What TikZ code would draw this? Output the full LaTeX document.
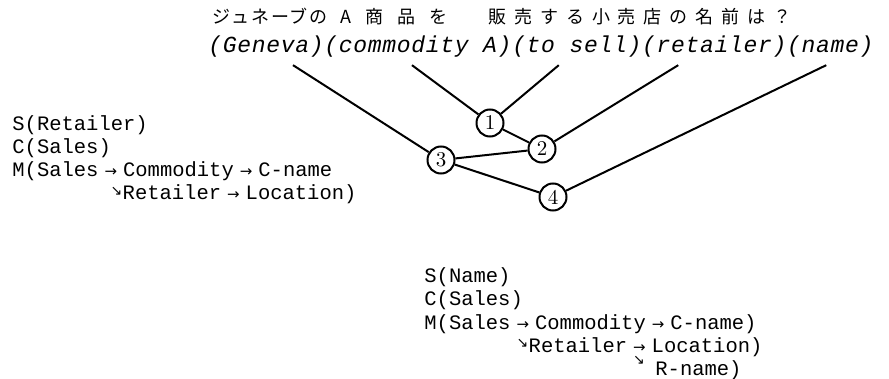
\documentclass[tikz,border=0pt]{standalone}
\usepackage{fontspec}
\setmonofont{Liberation Mono}
\newfontfamily\glossfont[LetterSpace=3]{Liberation Mono}
\newfontfamily\jpkana[LetterSpace=11]{Noto Sans CJK JP}
\newfontfamily\jpnoun[LetterSpace=78]{Noto Sans CJK JP}
\newfontfamily\jpkanji[LetterSpace=44]{Noto Sans CJK JP}
\newfontfamily\arrowfont{DejaVu Sans}
\usetikzlibrary{positioning}

% small arrows inside the schema lines
\newcommand{\sarr}{\makebox[1.2em]{\arrowfont\fontsize{7.5}{7.5}\selectfont →}}
\newcommand{\darr}{\makebox[0.6em]{\raisebox{2pt}{\arrowfont\fontsize{7}{7}\selectfont ↘}}}
\newcommand{\forkarr}{\makebox[1.2em]{\arrowfont\fontsize{7.5}{7.5}\selectfont\rlap{\raisebox{-6pt}{\fontsize{7}{7}\selectfont ↘}}→}}

\begin{document}
\begin{tikzpicture}[
    x=0.5pt, y=-0.5pt,
    jp/.style={anchor=base west, inner sep=0pt},
    word/.style={font=\glossfont\itshape\fontsize{11.5}{14}\selectfont, inner xsep=0pt, inner ysep=3.5pt},
    schema/.style={font=\ttfamily\fontsize{10.25}{12}\selectfont, anchor=base west, inner sep=0pt},
    junct/.style={circle, draw, line width=1pt, minimum size=13.5pt, inner sep=0pt, font=\fontsize{10.5}{12}\selectfont},
    link/.style={line width=1pt}
]
    \useasboundingbox (0,0) rectangle (889,379);

    % question and its gloss
    \node[jp, font=\jpkana\fontsize{9}{11}\selectfont] (qgen) at (212,24) {ジュネーブの};
    \node[jp, font=\jpnoun\fontsize{9}{11}\selectfont] (qcom) at (340,24) {A商品を};
    \node[jp, font=\jpkanji\fontsize{9}{11}\selectfont] (qsell) at (488,24) {販売する小売店の名前は？};

    \node[word, anchor=base west] (geneva) at (208,53) {(Geneva)};
    \node[word, right=0pt of geneva] (commod) {(commodity A)};
    \node[word, right=0pt of commod] (tosell) {(to sell)};
    \node[word, right=0pt of tosell] (retail) {(retailer)};
    \node[word, right=0pt of retail] (name) {(name)};

    % dependency tree
    \node[junct] (n1) at (490,123) {1};
    \node[junct] (n2) at (542,149) {2};
    \node[junct] (n3) at (441,160) {3};
    \node[junct] (n4) at (553,197) {4};

    \draw[link] ([xshift=13.5pt]geneva.south) -- (n3);
    \draw[link] ([xshift=-3pt]commod.south) -- (n1);
    \draw[link] ([xshift=-9pt]tosell.south) -- (n1);
    \draw[link] ([xshift=-18pt]retail.south) -- (n2);
    \draw[link] ([xshift=-2pt]name.south) -- (n4);
    \draw[link] (n1) -- (n2);
    \draw[link] (n2) -- (n3);
    \draw[link] (n3) -- (n4);

    % schema after step 3
    \node[schema] (sret) at (12,131) {S(Retailer)};
    \node[schema] (cret) at (12,154) {C(Sales)};
    \node[schema] (mret) at (12,177) {M(Sales\sarr Commodity\sarr C-name};
    \node[schema] (rret) at (110,200) {\darr Retailer\sarr Location)};

    % schema after step 4
    \node[schema] (snam) at (424,283) {S(Name)};
    \node[schema] (cnam) at (424,306) {C(Sales)};
    \node[schema] (mnam) at (424,329) {M(Sales\sarr Commodity\sarr C-name)};
    \node[schema] (rnam) at (516,352) {\darr Retailer\forkarr Location)};
    \node[schema] (rname) at (655,375) {R-name)};
\end{tikzpicture}
\end{document}
